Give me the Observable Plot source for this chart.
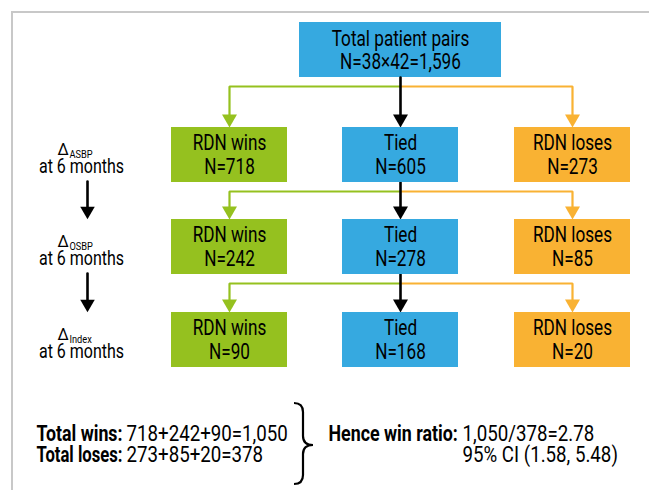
<!DOCTYPE html>
<html><head><meta charset="utf-8">
<script src="https://cdn.jsdelivr.net/npm/d3@7"></script>
<script src="https://cdn.jsdelivr.net/npm/@observablehq/plot@0.6"></script>
<style>
body{margin:0;background:#fff;}
#wrap{position:relative;width:649px;height:490px;overflow:hidden;}
#border{position:absolute;left:11px;top:11px;right:-5px;bottom:-5px;border-top:2px solid #c8c8c8;border-left:2px solid #c8c8c8;}
#chart{position:absolute;left:0;top:0;}
</style></head><body>
<div id="wrap"><div id="border"></div><div id="chart"></div></div>
<script>
// ---- data ----
const totalLabel = "Total patient pairs";
const totalFormula = "N=38×42=1,596";
const outcomes = ["RDN wins", "Tied", "RDN loses"];
const endpoints = ["ASBP", "OSBP", "Index"];
const endpointSuffix = "at 6 months";
const wins = [718, 242, 90];
const ties = [605, 278, 168];
const loses = [273, 85, 20];
const summaryLabels = ["Total wins:", "Total loses:"];
const ratioLabel = "Hence win ratio:";
const ciLow = 1.58, ciHigh = 5.48;

// ---- layout / style ----
const FONT = "Roboto, 'Noto Sans', sans-serif";
const colors = {"RDN wins": "#95c11f", "Tied": "#36a9e0", "RDN loses": "#f9b233"};
const colX = [229, 400, 572];
const boxW = 116, boxH = 55;
const rowTop = [127, 219, 312];
const connY = [86, 191, 283];
const topBox = {x1: 299, x2: 501, y1: 22, y2: 77};
const headH = 13;
const FS = 22;
// horizontal compression per text class (condensed look, text stays real text)
const squeeze = {"sq-main": 0.78, "sq-sub": 0.88, "sq-bottom": 0.85, "sq-ratio": 0.81};
const labelWidth = 86; // both bold summary labels span the same width

const fmt = d3.format(",");
const series = [wins, ties, loses];
const boxes = endpoints.flatMap((e, i) => outcomes.map((o, j) => ({row: i, col: j, outcome: o, n: series[j][i]})));

// connector paths
const paths = [];
endpoints.forEach((e, i) => {
  const tip = rowTop[i] - headH + 1;
  paths.push({id: `g${i}`, c: colors["RDN wins"], x: colX[1], y: connY[i]});
  paths.push({id: `g${i}`, c: colors["RDN wins"], x: colX[0], y: connY[i]});
  paths.push({id: `g${i}`, c: colors["RDN wins"], x: colX[0], y: tip});
  paths.push({id: `o${i}`, c: colors["RDN loses"], x: colX[1], y: connY[i]});
  paths.push({id: `o${i}`, c: colors["RDN loses"], x: colX[2], y: connY[i]});
  paths.push({id: `o${i}`, c: colors["RDN loses"], x: colX[2], y: tip});
});
const blackPaths = [];
endpoints.forEach((e, i) => {
  const srcBottom = i === 0 ? topBox.y2 : rowTop[i - 1] + boxH;
  blackPaths.push({id: `b${i}`, x: colX[1], y: srcBottom});
  blackPaths.push({id: `b${i}`, x: colX[1], y: rowTop[i] - headH + 1});
});
const heads = endpoints.flatMap((e, i) => [
  {x: colX[0], y: rowTop[i] - 8.66, c: colors["RDN wins"]},
  {x: colX[1], y: rowTop[i] - 8.66, c: "#000"},
  {x: colX[2], y: rowTop[i] - 8.66, c: colors["RDN loses"]}
]);

// left labels
const labX = 81, deltaX = 57, subX = 69, arrowX = 87;
const labels = endpoints.map((e, i) => ({e, deltaY: rowTop[i] + 27, monthsY: rowTop[i] + 45}));
const leftArrows = [];
const leftHeads = [];
for (let i = 0; i < endpoints.length - 1; i++) {
  leftArrows.push({id: i, x: arrowX, y: rowTop[i] + boxH - 1});
  leftArrows.push({id: i, x: arrowX, y: rowTop[i + 1] - headH + 1});
  leftHeads.push({x: arrowX, y: rowTop[i + 1] - 8.66});
}

// summary
const totWins = d3.sum(wins), totLoses = d3.sum(loses);
const summaryFormulas = [wins.join("+") + "=" + fmt(totWins), loses.join("+") + "=" + fmt(totLoses)];
const ratioLines = [fmt(totWins) + "/" + fmt(totLoses) + "=" + (totWins / totLoses).toFixed(2), `95% CI (${ciLow.toFixed(2)}, ${ciHigh.toFixed(2)})`];
const sumRows = [0, 1].map(k => ({k, y: 440 + k * 21}));

function braceMark(index, {x, y}) {
  const x0 = x(294), xm = x(303), xt = x(313);
  const y0 = y(403), ym = y(445), y1 = y(484), r = 9;
  const d = `M${x0},${y0} Q${xm},${y0} ${xm},${y0 + r} L${xm},${ym - r} Q${xm},${ym} ${xt},${ym} Q${xm},${ym} ${xm},${ym + r} L${xm},${y1 - r} Q${xm},${y1} ${x0},${y1}`;
  return d3.create("svg:path").attr("d", d).attr("fill", "none").attr("stroke", "#000").attr("stroke-width", 2.2).node();
}

const plot = Plot.plot({
  width: 649, height: 490,
  margin: 0,
  x: {domain: [0, 649], range: [0, 649], axis: null},
  y: {domain: [0, 490], range: [0, 490], axis: null},
  style: {fontFamily: FONT, background: "transparent", overflow: "visible"},
  marks: [
    Plot.rect([topBox], {x1: "x1", x2: "x2", y1: "y1", y2: "y2", fill: colors["Tied"]}),
    Plot.text([totalLabel], {x: (topBox.x1 + topBox.x2) / 2, y: topBox.y1 + 23, text: d => d, fontSize: FS, lineAnchor: "bottom", fill: "#000", className: "sq-main"}),
    Plot.text([totalFormula], {x: (topBox.x1 + topBox.x2) / 2, y: topBox.y1 + 46, text: d => d, fontSize: FS, lineAnchor: "bottom", fill: "#000", className: "sq-main"}),
    Plot.line(paths, {x: "x", y: "y", z: "id", stroke: d => d.c, strokeWidth: 2.2, strokeLinejoin: "miter", strokeLinecap: "butt"}),
    Plot.line(blackPaths, {x: "x", y: "y", z: "id", stroke: "#000", strokeWidth: 2.6}),
    Plot.dot(heads, {x: "x", y: "y", symbol: "triangle", rotate: 180, r: 5.57, fill: d => d.c, stroke: null}),
    Plot.rect(boxes, {x1: d => colX[d.col] - boxW / 2, x2: d => colX[d.col] + boxW / 2, y1: d => rowTop[d.row], y2: d => rowTop[d.row] + boxH, fill: d => colors[d.outcome]}),
    Plot.text(boxes, {x: d => colX[d.col], y: d => rowTop[d.row] + 22.5, text: "outcome", fontSize: FS, lineAnchor: "bottom", fill: "#000", className: "sq-main"}),
    Plot.text(boxes, {x: d => colX[d.col], y: d => rowTop[d.row] + 46, text: d => "N=" + d.n, fontSize: FS, lineAnchor: "bottom", fill: "#000", className: "sq-main"}),
    Plot.text(labels, {x: deltaX, y: "deltaY", text: () => "Δ", fontSize: 16, textAnchor: "start", lineAnchor: "bottom"}),
    Plot.text(labels, {x: subX, y: d => d.deltaY + 3, text: "e", fontSize: 10.5, textAnchor: "start", lineAnchor: "bottom", className: "sq-sub"}),
    Plot.text(labels, {x: labX, y: "monthsY", text: () => endpointSuffix, fontSize: 20.5, lineAnchor: "bottom", className: "sq-main"}),
    Plot.line(leftArrows, {x: "x", y: "y", z: "id", stroke: "#000", strokeWidth: 2.6}),
    Plot.dot(leftHeads, {x: "x", y: "y", symbol: "triangle", rotate: 180, r: 5.4, fill: "#000", stroke: null}),
    Plot.text(sumRows, {x: 36, y: "y", text: d => summaryLabels[d.k], fontSize: FS, fontWeight: "bold", textAnchor: "start", lineAnchor: "bottom", className: "fit-label"}),
    Plot.text(sumRows, {x: 36 + labelWidth + 4, y: "y", text: d => summaryFormulas[d.k], fontSize: FS, textAnchor: "start", lineAnchor: "bottom", className: "sq-bottom"}),
    braceMark,
    Plot.text([sumRows[0]], {x: 328, y: "y", text: () => ratioLabel, fontSize: FS, fontWeight: "bold", textAnchor: "start", lineAnchor: "bottom", className: "sq-ratio"}),
    Plot.text(sumRows, {x: 462, y: "y", text: d => ratioLines[d.k], fontSize: FS, textAnchor: "start", lineAnchor: "bottom", className: "sq-bottom"})
  ]
});
document.getElementById("chart").appendChild(plot);
for (const [cls, f] of Object.entries(squeeze)) {
  plot.querySelectorAll(`g.${cls} text`).forEach(t => {
    const L = t.getComputedTextLength();
    if (L > 0) {
      t.setAttribute("textLength", (L * f).toFixed(2));
      t.setAttribute("lengthAdjust", "spacingAndGlyphs");
    }
  });
}
plot.querySelectorAll("g.fit-label text").forEach(t => {
  t.setAttribute("textLength", labelWidth);
  t.setAttribute("lengthAdjust", "spacingAndGlyphs");
});
</script>
</body></html>
